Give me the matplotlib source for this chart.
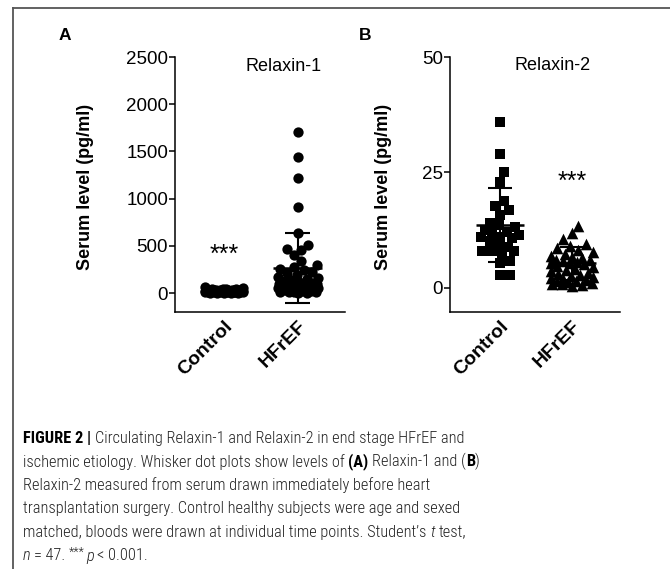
import matplotlib
matplotlib.use("Agg")
import matplotlib.pyplot as plt
from matplotlib import font_manager
from matplotlib.lines import Line2D
import numpy as np

# ---------------- data ----------------
groups = ["Control", "HFrEF"]

relaxin1_control = [2, 3, 4, 5, 6, 7, 8, 9, 10, 11, 12, 13, 14, 15, 16, 17, 18, 19,
                    20, 21, 22, 23, 24, 25, 26, 27, 28, 30, 31, 32, 34, 35, 37, 38,
                    40, 42, 45, 48, 52, 60]
relaxin1_hfref = [1705, 1441, 1218, 911, 636, 508, 470, 455, 400, 340, 300, 280,
                  260, 240, 225, 210, 190, 175, 160, 150, 140, 130, 120, 110, 100,
                  95, 90, 85, 80, 75, 70, 65, 60, 55, 50, 45, 40, 35, 30, 25, 20,
                  15, 12, 10, 8, 5, 3]
relaxin1_mean = [20, 265]
relaxin1_sd = [15, 370]
relaxin1_ticks = [0, 500, 1000, 1500, 2000, 2500]

relaxin2_control = [36, 29, 25, 23, 18.8, 17.7, 16.9, 15.8, 14.0, 13.6, 13.3, 12.6,
                    12.2, 11.9, 11.5, 11.1, 11.1, 10.8, 10.2, 8.9, 8.9, 7.9, 7.9,
                    7.9, 7.6, 5.9, 5.5, 2.8, 2.8]
relaxin2_hfref = [13.5, 11.8, 10.5, 9.6, 9.0, 8.6, 8.2, 7.8, 7.4, 7.0, 6.7, 6.4,
                  6.1, 5.9, 5.7, 5.5, 5.3, 5.1, 4.8, 4.5, 4.2, 3.9, 3.6, 3.3, 3.0,
                  2.7, 2.4, 2.1, 1.9, 1.7, 1.5, 1.3, 1.1, 0.9, 0.7, 0.5, 0.8, 1.6,
                  2.9, 6.0]
relaxin2_mean = [13.6, 5.3]
relaxin2_sd = [8.0, 3.6]
relaxin2_ticks = [0, 25, 50]

# ---------------- figure ----------------
W, H = 670, 569
fig = plt.figure(figsize=(W / 100, H / 100), dpi=100)
fig.patch.set_facecolor("white")
FONT = "Liberation Sans"
plt.rcParams["font.family"] = [FONT, "DejaVu Sans"]


def fx(x):
    return x / W


def fy(y):
    return 1 - y / H


def swarm_x(ax, xc, vals, diam, halfw):
    pix = ax.transData.transform(np.column_stack([np.full(len(vals), xc), vals]))
    cx = pix[0, 0]
    order = np.argsort(pix[:, 1])
    placed = []
    xs = np.zeros(len(vals))
    for i in order:
        y = pix[i, 1]
        cands = [cx]
        for px, py in placed:
            dy = abs(py - y)
            if dy < diam:
                dx = np.sqrt(diam ** 2 - dy ** 2)
                cands += [px + dx + 0.01, px - dx - 0.01]
        cands.sort(key=lambda c: abs(c - cx))
        chosen = None
        for c in cands:
            if abs(c - cx) > halfw:
                continue
            if all((c - px) ** 2 + (y - py) ** 2 >= diam ** 2 - 1e-6 for px, py in placed):
                chosen = c
                break
        if chosen is None:
            trial = np.linspace(cx - halfw, cx + halfw, 41)
            chosen = max(trial, key=lambda c: min((c - px) ** 2 + (y - py) ** 2
                                                  for px, py in placed))
        placed.append((chosen, y))
        xs[i] = chosen
    back = ax.transData.inverted().transform(np.column_stack([xs, pix[:, 1]]))
    return back[:, 0]


def make_axes(left, right, top, bottom, ylim, xlim, ticks):
    ax = fig.add_axes([fx(left), fy(bottom), (right - left) / W, (bottom - top) / H])
    ax.set_ylim(*ylim)
    ax.set_xlim(*xlim)
    for s in ["top", "right"]:
        ax.spines[s].set_visible(False)
    for s in ["left", "bottom"]:
        ax.spines[s].set_linewidth(1.1)
    ax.set_yticks(ticks)
    ax.tick_params(axis="y", length=4, width=1.1, labelsize=13.5, pad=1)
    ax.tick_params(axis="x", length=0, pad=4)
    ax.set_xticks([0, 1])
    ax.set_xticklabels(groups, rotation=45, ha="right", rotation_mode="anchor",
                       fontweight="bold", fontsize=14)
    ax.patch.set_alpha(0)
    return ax


def errbar(ax, xc, m, sd):
    ax.hlines(m, xc - 0.33, xc + 0.33, color="black", lw=1.8, zorder=4)
    ax.vlines(xc, m - sd, m + sd, color="black", lw=1.5, zorder=4)
    ax.hlines([m - sd, m + sd], xc - 0.17, xc + 0.17, color="black", lw=1.5, zorder=4)


# Panel A
axA = make_axes(175, 345, 57, 312, (-200, 2500), (-0.667, 1.646), relaxin1_ticks)
xs = swarm_x(axA, 0, relaxin1_control, 7, 19)
axA.scatter(xs, relaxin1_control, s=55, marker="o", color="black", linewidths=0, zorder=3)
xs = swarm_x(axA, 1, relaxin1_hfref, 9, 20)
axA.scatter(xs, relaxin1_hfref, s=55, marker="o", color="black", linewidths=0, zorder=3)
for i in range(2):
    errbar(axA, i, relaxin1_mean[i], relaxin1_sd[i])

# Panel B
axB = make_axes(450, 620, 57, 312, (-5.2, 50), (-0.694, 1.667), relaxin2_ticks)
xs = swarm_x(axB, 0, relaxin2_control, 10, 19)
axB.scatter(xs, relaxin2_control, s=50, marker="s", color="black", linewidths=0, zorder=3)
xs = swarm_x(axB, 1, relaxin2_hfref, 10, 21)
axB.scatter(xs, relaxin2_hfref, s=70, marker="^", color="black", linewidths=0, zorder=3)
for i in range(2):
    errbar(axB, i, relaxin2_mean[i], relaxin2_sd[i])

# annotations
fig.text(fx(65), fy(35), "A", fontsize=12.5, fontweight="bold", ha="center", va="center")
fig.text(fx(365), fy(35), "B", fontsize=12.5, fontweight="bold", ha="center", va="center")
fig.text(fx(284), fy(66), "Relaxin-1", fontsize=13, ha="center", va="center")
fig.text(fx(553), fy(65), "Relaxin-2", fontsize=13, ha="center", va="center")
fig.text(fx(85), fy(187), "Serum level (pg/ml)", fontsize=13, fontweight="bold",
         rotation=90, ha="center", va="center")
fig.text(fx(383), fy(187), "Serum level (pg/ml)", fontsize=13, fontweight="bold",
         rotation=90, ha="center", va="center")
axA.text(0, 400, "***", fontsize=18, ha="center", va="center")
axB.text(1, 23, "***", fontsize=18, ha="center", va="center")

# frame
fig.add_artist(Line2D([fx(13), 1.0], [fy(8), fy(8)], transform=fig.transFigure,
                      color="#555555", lw=1.3))
fig.add_artist(Line2D([fx(13), fx(13)], [fy(8), 0.0], transform=fig.transFigure,
                      color="#555555", lw=1.3))

# ---------------- caption ----------------
names = {f.name for f in font_manager.fontManager.ttflist}
cap_font = "Liberation Sans"
for cand in ["Liberation Sans Narrow", "Roboto Condensed", "Roboto"]:
    if cand in names:
        cap_font = cand
        break
renderer = fig.canvas.get_renderer()
cap_color = "#222222"


def text_width(s, **props):
    t = fig.text(0, 0, s, **props)
    w = t.get_window_extent(renderer).width
    t.remove()
    return w


line1_plain = "FIGURE 2 | Circulating Relaxin-1 and Relaxin-2 in end stage HFrEF and"
base_size = 11
w1 = text_width(line1_plain, family=[cap_font], fontsize=base_size, fontweight="light")
cap_size = base_size * 440 / w1


def run_props(style):
    p = dict(family=[cap_font, "DejaVu Sans"], fontsize=cap_size, color=cap_color,
             fontweight="light")
    if "b" in style:
        p["fontweight"] = "bold"
        p["color"] = "black"
    if "i" in style:
        p["fontstyle"] = "italic"
    if "s" in style:
        p["fontsize"] = cap_size * 0.75
    return p


def space_w(props):
    return text_width("x x", **props) - text_width("xx", **props)


def draw_line(x0, ybase, runs):
    x = x0
    for s, style in runs:
        props = run_props(style)
        sw = space_w(props)
        lead = len(s) - len(s.lstrip(" "))
        trail = len(s) - len(s.rstrip(" "))
        core = s.strip(" ")
        x += lead * sw
        dy = cap_size * 0.4 if "s" in style else 0
        if core:
            t = fig.text(fx(x), fy(ybase - dy), core, ha="left", va="baseline", **props)
            x += t.get_window_extent(renderer).width + (1 if "s" in style else 0)
        x += trail * sw


caption = [
    [("FIGURE 2 |", "b"), (" Circulating Relaxin-1 and Relaxin-2 in end stage HFrEF and", "")],
    [("ischemic etiology. Whisker dot plots show levels of ", ""), ("(A)", "b"),
     (" Relaxin-1 and (", ""), ("B", "b"), (")", "")],
    [("Relaxin-2 measured from serum drawn immediately before heart", "")],
    [("transplantation surgery. Control healthy subjects were age and sexed", "")],
    [("matched, bloods were drawn at individual time points. Student\u2019s ", ""),
     ("t", "i"), (" test,", "")],
    [("n", "i"), (" = 47. ", ""), ("***", "s"), ("p", "i"), (" < 0.001.", "")],
]
for k, runs in enumerate(caption):
    draw_line(23, 443 + 23.5 * k, runs)

fig.savefig("out.png", dpi=100, facecolor="white")
